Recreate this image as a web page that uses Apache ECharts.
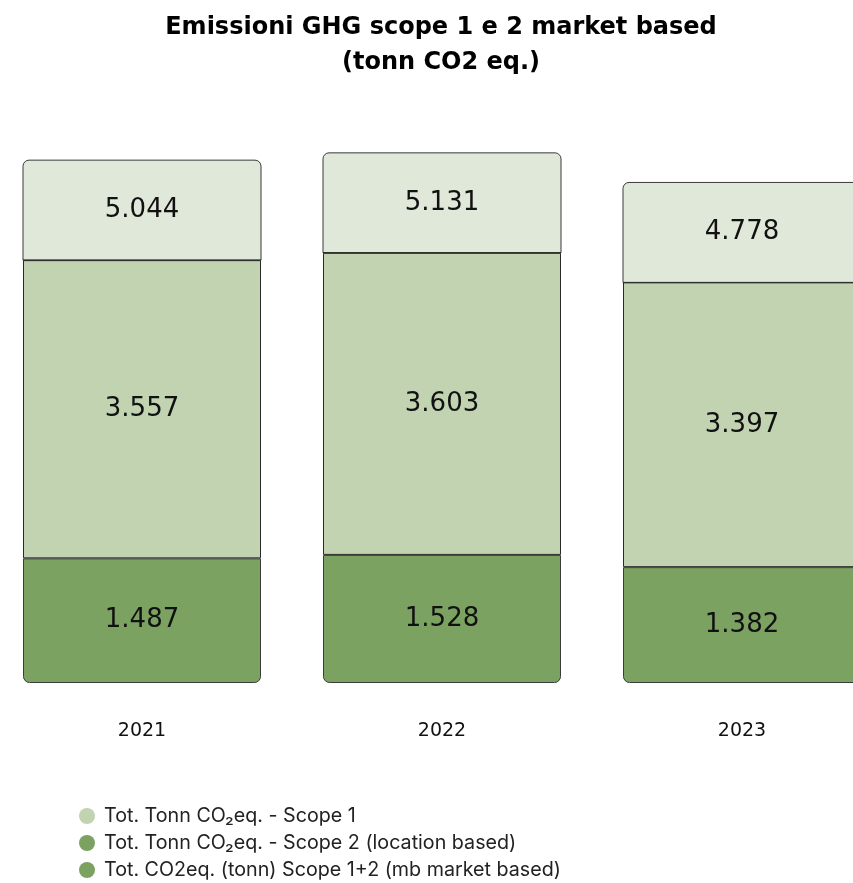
<!DOCTYPE html>
<html>
<head>
<meta charset="utf-8">
<script src="https://cdn.jsdelivr.net/npm/echarts@6/dist/echarts.min.js"></script>
<style>
html,body{margin:0;padding:0;background:#fff;}
#chart{width:853px;height:883px;}
</style>
</head>
<body>
<div id="chart"></div>
<script>
const years = ['2021', '2022', '2023'];
const scope2Location = [1.487, 1.528, 1.382];
const scope1 = [3.557, 3.603, 3.397];
const totalMarket = [5.044, 5.131, 4.778];

const seriesNames = [
  'Tot. Tonn CO₂eq. - Scope 1',
  'Tot. Tonn CO₂eq. - Scope 2 (location based)',
  'Tot. CO2eq. (tonn) Scope 1+2 (mb market based)'
];

const fmt = v => v.toFixed(3);
const valueFont = '"DejaVu Sans", sans-serif';
const legendFont = 'Inter, "Liberation Sans", sans-serif';
const BAR_W = 238;
const chart = echarts.init(document.getElementById('chart'));

chart.setOption({
  backgroundColor: '#ffffff',
  animation: false,
  title: {
    text: 'Emissioni GHG scope 1 e 2 market based\n(tonn CO2 eq.)',
    left: 436,
    top: 5,
    textAlign: 'center',
    textStyle: {
      fontFamily: '"DejaVu Sans", sans-serif',
      fontWeight: 'bold',
      fontSize: 24,
      lineHeight: 35,
      color: '#000'
    }
  },
  legend: {
    orient: 'vertical',
    left: 79,
    top: 806,
    padding: 0,
    itemGap: 7,
    itemWidth: 16,
    itemHeight: 16,
    icon: 'circle',
    itemStyle: { borderWidth: 0 },
    textStyle: {
      fontFamily: legendFont,
      fontSize: 19.7,
      lineHeight: 20,
      color: '#222',
      padding: [0, 0, 0, 4]
    },
    data: [
      { name: seriesNames[0], itemStyle: { color: '#c1d3b1', borderWidth: 0 } },
      { name: seriesNames[1], itemStyle: { color: '#7ca261', borderWidth: 0 } },
      { name: seriesNames[2], itemStyle: { color: '#7ca261', borderWidth: 0 } }
    ]
  },
  grid: { left: -8, right: -39, top: 180, bottom: 200, outerBoundsMode: 'none', containLabel: false },
  xAxis: {
    type: 'category',
    data: years,
    axisLine: { show: false },
    axisTick: { show: false },
    axisLabel: {
      margin: 39,
      fontFamily: valueFont,
      fontSize: 19,
      color: '#111'
    }
  },
  yAxis: {
    type: 'value',
    min: 0,
    max: 6,
    show: false,
    splitLine: { show: false }
  },
  series: [
    {
      name: seriesNames[1],
      type: 'bar',
      stack: 'tot',
      barWidth: BAR_W,
      data: scope2Location,
      itemStyle: {
        color: '#7ca261',
        borderColor: '#3a3a3a',
        borderWidth: 1,
        borderRadius: [0, 0, 6, 6]
      },
      label: {
        show: true,
        position: 'inside',
        formatter: p => fmt(p.value),
        fontFamily: valueFont,
        fontSize: 26,
        color: '#111'
      }
    },
    {
      name: seriesNames[0],
      type: 'bar',
      stack: 'tot',
      barWidth: BAR_W,
      data: scope1,
      itemStyle: {
        color: '#c1d3b1',
        borderColor: '#2a2a2a',
        borderWidth: 1
      },
      label: {
        show: true,
        position: 'inside',
        formatter: p => fmt(p.value),
        fontFamily: valueFont,
        fontSize: 26,
        color: '#111'
      }
    },
    {
      name: seriesNames[2],
      type: 'custom',
      clip: false,
      data: totalMarket.map((v, i) => [i, v]),
      itemStyle: { color: '#e0e8d9' },
      renderItem: function (params, api) {
        const pt = api.coord([api.value(0), api.value(1)]);
        const w = BAR_W;
        const h = 100;
        return {
          type: 'group',
          children: [
            {
              type: 'rect',
              shape: { x: pt[0] - w / 2, y: pt[1] - h, width: w, height: h, r: [6, 6, 0, 0] },
              style: { fill: '#e0e8d9', stroke: '#3a3a3a', lineWidth: 1 }
            },
            {
              type: 'line',
              shape: { x1: pt[0] - w / 2, y1: pt[1], x2: pt[0] + w / 2, y2: pt[1] },
              style: { stroke: '#111', lineWidth: 1 }
            },
            {
              type: 'text',
              x: pt[0],
              y: pt[1] - h / 2,
              style: {
                text: fmt(api.value(1)),
                fontFamily: valueFont,
                fontSize: 26,
                fill: '#111',
                align: 'center',
                verticalAlign: 'middle'
              }
            }
          ]
        };
      }
    }
  ]
});
</script>
</body>
</html>
